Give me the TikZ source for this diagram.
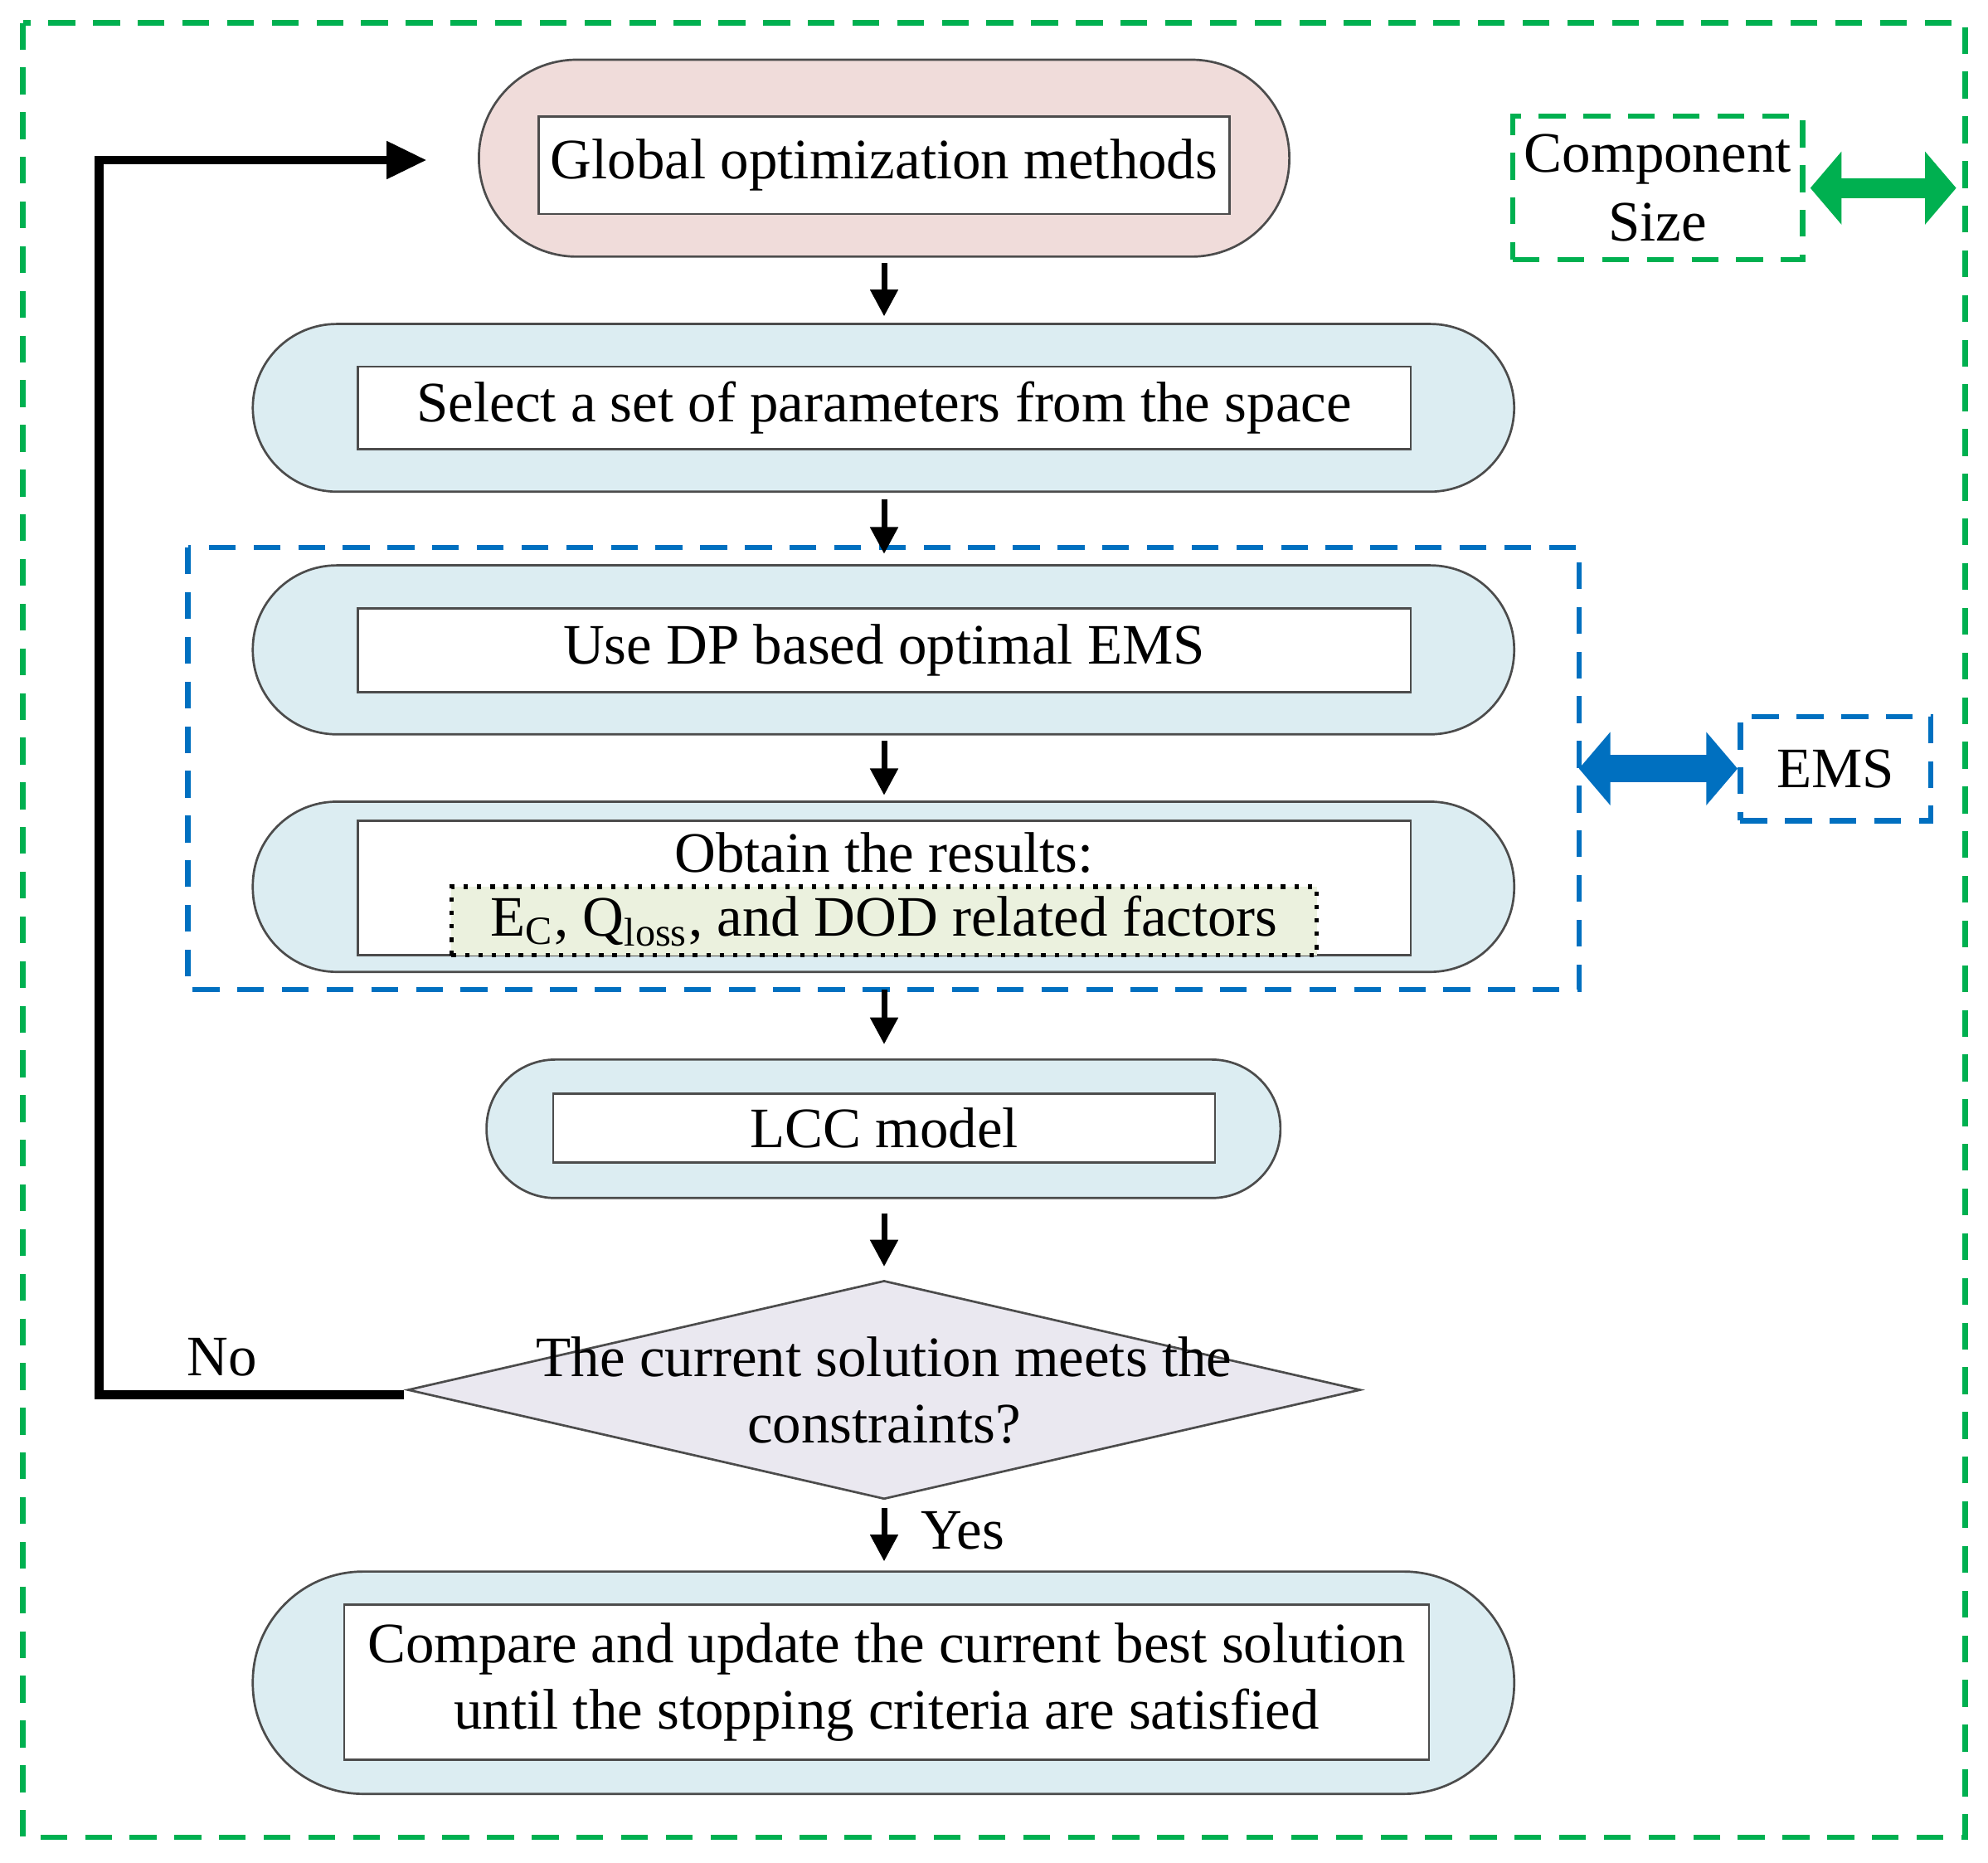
\documentclass[tikz,border=0pt]{standalone}
\usepackage{fontspec}
\setmainfont{Liberation Serif}
\usetikzlibrary{arrows.meta,shapes.geometric}
\definecolor{pinkf}{RGB}{240,220,218}
\definecolor{bluef}{RGB}{220,237,242}
\definecolor{greenf}{RGB}{235,241,222}
\definecolor{diaf}{RGB}{234,232,240}
\definecolor{gline}{RGB}{0,176,80}
\definecolor{bline}{RGB}{0,112,192}
\begin{document}
\begin{tikzpicture}[x=0.01cm,y=-0.01cm,font=\fontsize{12.8pt}{15.5pt}\selectfont,
 stad/.style={draw=black!70,line width=0.5pt},
 inner/.style={draw=black!70,fill=white,line width=0.5pt,inner sep=0pt},
 arr/.style={line width=1.3pt,-{Triangle[length=6pt,width=6pt]}},
 gd/.style={draw=gline,line width=1.2pt,dash pattern=on 6pt off 4pt},
 bd/.style={draw=bline,line width=1.2pt,dash pattern=on 6pt off 4pt}]
\useasboundingbox (0,0) rectangle (1565,1466);
\draw[gd] (18,18) rectangle (1547,1446);
\draw[stad,fill=pinkf,rounded corners=21.9pt] (377,47) rectangle (1015,202);
\draw[stad,fill=bluef,rounded corners=18.8pt] (199,255) rectangle (1192,387);
\draw[bd] (148,431) rectangle (1243,779);
\draw[stad,fill=bluef,rounded corners=18.8pt] (199,445) rectangle (1192,578);
\draw[stad,fill=bluef,rounded corners=18.8pt] (199,631) rectangle (1192,765);
\draw[stad,fill=bluef,rounded corners=15.4pt] (383,834) rectangle (1008,943);
\draw[stad,fill=bluef,rounded corners=24.7pt] (199,1237) rectangle (1192,1412);
\node[inner,minimum width=544*0.01cm,minimum height=77*0.01cm] (n1) at (696,130) {Global optimization methods};
\node[inner,minimum width=829*0.01cm,minimum height=65*0.01cm] (n2) at (696,321) {Select a set of parameters from the space};
\node[inner,minimum width=829*0.01cm,minimum height=66*0.01cm] (n3) at (696,512) {Use DP based optimal EMS};
\node[inner,minimum width=829*0.01cm,minimum height=106*0.01cm] (n4) at (696,699) {};
\node at (696,671) {Obtain the results:};
\node[draw,dotted,line width=1pt,fill=greenf,minimum width=681*0.01cm,minimum height=54*0.01cm,inner sep=0pt] (n4b) at (696,725) {E\textsubscript{C}, Q\textsubscript{loss}, and DOD related factors};
\node[inner,minimum width=521*0.01cm,minimum height=54*0.01cm] (n5) at (696,888) {LCC model};
\node[diamond,aspect=4.36,draw=black!70,fill=diaf,line width=0.5pt,minimum width=750*0.01cm,minimum height=172*0.01cm,inner sep=0pt] (d) at (696,1094) {};
\node[align=center] at (696,1094) {The current solution meets the\\[-0.05em]constraints?};
\node[inner,minimum width=854*0.01cm,minimum height=122*0.01cm,align=center] (n6) at (698,1324) {Compare and update the current best solution\\[-0.05em]until the stopping criteria are satisfied};
\coordinate (a1) at (696,207); \coordinate (b1) at (696,249);
\coordinate (a2) at (696,393); \coordinate (b2) at (696,436);
\coordinate (a3) at (696,583); \coordinate (b3) at (696,626);
\coordinate (a4) at (696,779); \coordinate (b4) at (696,822);
\coordinate (a5) at (696,955); \coordinate (b5) at (696,997);
\coordinate (a6) at (696,1187); \coordinate (b6) at (696,1229);
\foreach \i in {1,...,6} {\draw[arr] (a\i) -- (b\i);}
\node at (758,1205) {Yes};
\coordinate (f0) at (318,1098); \coordinate (f1) at (78,1098); \coordinate (f2) at (78,126); \coordinate (f3) at (336,126);
\draw[line width=2pt,-{Triangle[length=9pt,width=8pt]}] (f0) -- (f1) -- (f2) -- (f3);
\node at (175,1068) {No};
\node[gd,minimum width=228*0.01cm,minimum height=113*0.01cm,align=center,inner sep=0pt] (cs) at (1305,148) {Component\\Size};
\coordinate (g2) at (1540,148);
\draw[gline,line width=4.5pt,{Triangle[length=7pt,width=16pt]}-{Triangle[length=7pt,width=16pt]}] (cs.east) ++(4,0) -- (g2);
\node[bd,minimum width=150*0.01cm,minimum height=82*0.01cm,inner sep=0pt] (ems) at (1445,605) {EMS};
\coordinate (e1) at (1243,605);
\draw[bline,line width=6pt,{Triangle[length=7pt,width=16pt]}-{Triangle[length=7pt,width=16pt]}] (e1) -- (ems.west);
\end{tikzpicture}
\end{document}
